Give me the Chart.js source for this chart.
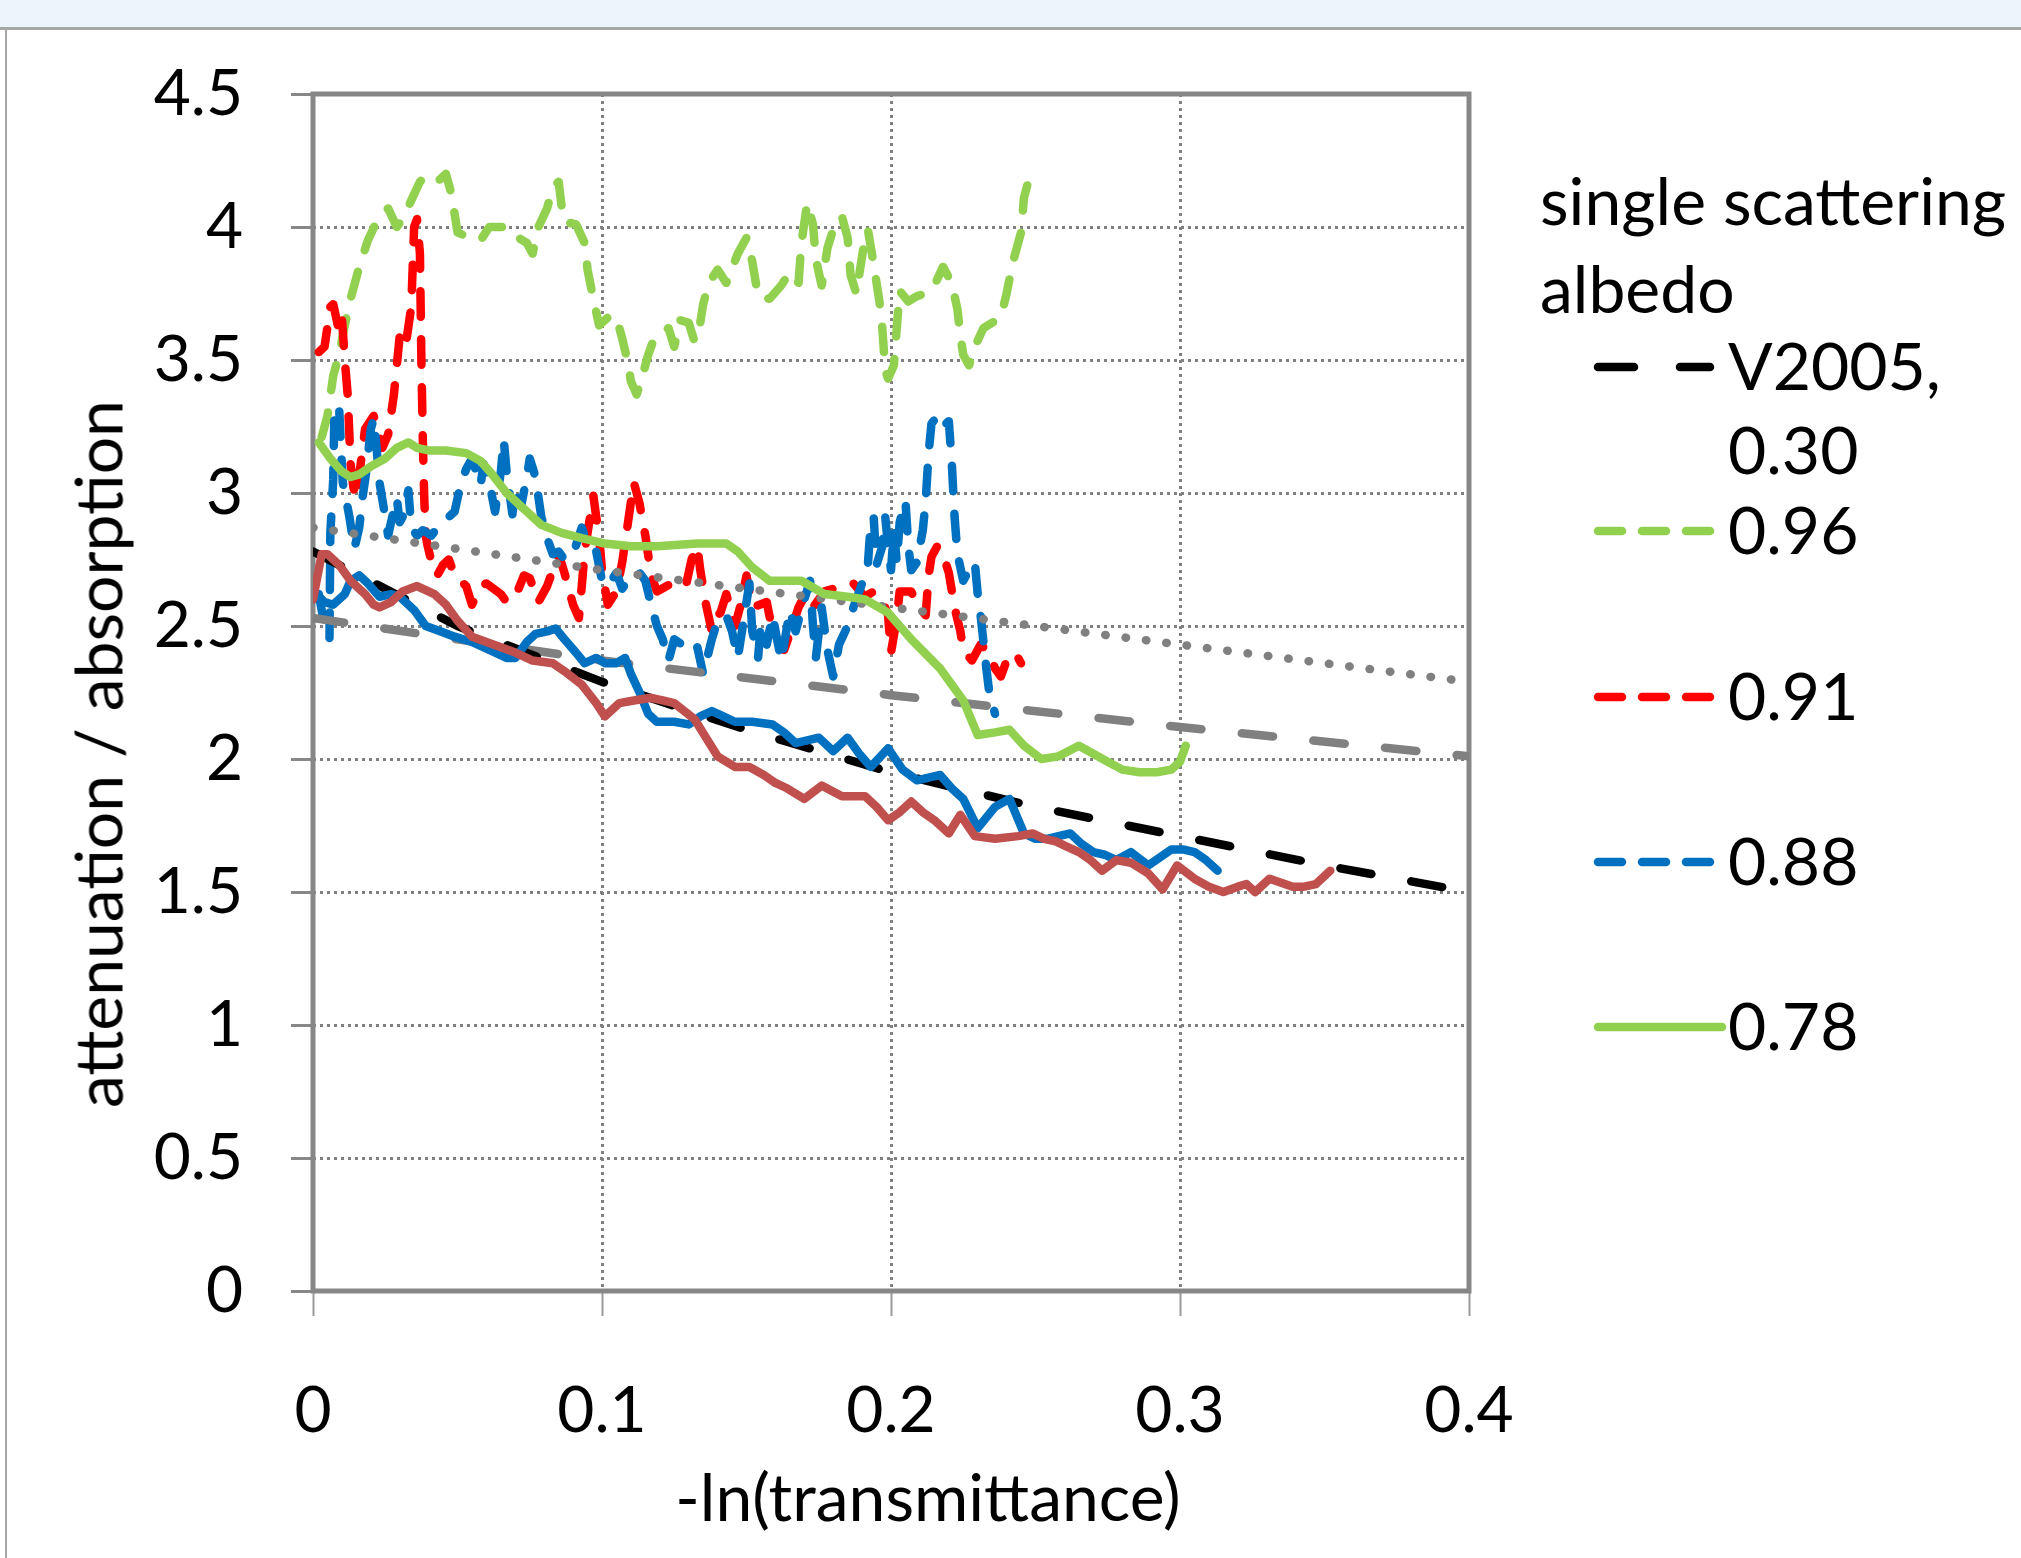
<!DOCTYPE html>
<html>
<head>
<meta charset="utf-8">
<script src="https://cdn.jsdelivr.net/npm/chart.js@4.4.1/dist/chart.umd.min.js"></script>
<style>
  html, body { margin: 0; padding: 0; background: #fff; }
  body { width: 2021px; height: 1558px; position: relative; overflow: hidden; font-family: Lato, "Noto Sans", sans-serif; color: #000; }
  #band { position: absolute; left: 0; top: 0; width: 2021px; height: 27px; background: #EEF4FC; border-bottom: 3px solid #A6A6A6; }
  #edge { position: absolute; left: 5px; top: 30px; width: 2px; height: 1528px; background: #A6A6A6; }
  #chart { position: absolute; left: 0; top: 0; }
  .txt { position: absolute; font-size: 66px; line-height: 80px; white-space: nowrap; }
  #ytitle { position: absolute; left: 97px; top: 754px; transform: translate(-50%, -50%) rotate(-90deg); font-size: 66px; white-space: nowrap; }
  #xtitle { position: absolute; left: 928px; top: 1495px; transform: translate(-50%, -50%); font-size: 66px; white-space: nowrap; }
  #keys { position: absolute; left: 0; top: 0; }
</style>
</head>
<body>
<div id="band"></div>
<div id="edge"></div>
<canvas id="chart" width="2021" height="1558"></canvas>
<div id="ytitle">attenuation / absorption</div>
<div id="xtitle">-ln(transmittance)</div>

<div class="txt" style="left:1540px; top:160px;">single scattering</div>
<div class="txt" style="left:1540px; top:248px;">albedo</div>
<div class="txt" style="left:1728px; top:325px;">V2005,</div>
<div class="txt" style="left:1728px; top:409px;">0.30</div>
<div class="txt" style="left:1728px; top:489px;">0.96</div>
<div class="txt" style="left:1728px; top:655px;">0.91</div>
<div class="txt" style="left:1728px; top:820px;">0.88</div>
<div class="txt" style="left:1728px; top:985px;">0.78</div>

<svg id="keys" width="2021" height="1558">
  <g stroke-width="8.5" stroke-linecap="round">
    <line x1="1598" y1="367" x2="1634" y2="367" stroke="#000"/>
    <line x1="1680" y1="367" x2="1710" y2="367" stroke="#000"/>
    <g stroke="#92D050">
      <line x1="1598" y1="531" x2="1622" y2="531"/>
      <line x1="1642" y1="531" x2="1666" y2="531"/>
      <line x1="1686" y1="531" x2="1710" y2="531"/>
    </g>
    <g stroke="#FF0000">
      <line x1="1598" y1="697" x2="1622" y2="697"/>
      <line x1="1642" y1="697" x2="1666" y2="697"/>
      <line x1="1686" y1="697" x2="1710" y2="697"/>
    </g>
    <g stroke="#0070C0">
      <line x1="1598" y1="862" x2="1622" y2="862"/>
      <line x1="1642" y1="862" x2="1666" y2="862"/>
      <line x1="1686" y1="862" x2="1710" y2="862"/>
    </g>
    <line x1="1598" y1="1027" x2="1722" y2="1027" stroke="#92D050"/>
  </g>
</svg>

<script>
// axis ticks
const xTickValues = [0, 0.1, 0.2, 0.3, 0.4];
const xTickLabels = ['0', '0.1', '0.2', '0.3', '0.4'];
const yTickValues = [0, 0.5, 1, 1.5, 2, 2.5, 3, 3.5, 4, 4.5];
const yTickLabels = ['0', '0.5', '1', '1.5', '2', '2.5', '3', '3.5', '4', '4.5'];

// model curves: [x, y]
const v2005 = [[0, 2.78], [0.05, 2.50], [0.1, 2.29], [0.15, 2.11], [0.2, 1.95], [0.25, 1.82], [0.3, 1.71], [0.35, 1.60], [0.4, 1.50]];
const greyDashed = [[0, 2.53], [0.1, 2.37], [0.2, 2.24], [0.3, 2.12], [0.4, 2.01]];
const greyDotted = [[0, 2.87], [0.1, 2.71], [0.2, 2.57], [0.3, 2.43], [0.4, 2.29]];

// measured ratios, single scattering albedo 0.96
const albedo096 = [
  [0.003, 3.21], [0.005, 3.29], [0.007, 3.44], [0.009, 3.52], [0.011, 3.63], [0.013, 3.73], [0.016, 3.85],
  [0.019, 3.95], [0.022, 4.02], [0.026, 4.07], [0.029, 4.00], [0.031, 4.03], [0.034, 4.10], [0.037, 4.17],
  [0.039, 4.19], [0.043, 4.17], [0.046, 4.20], [0.048, 4.12], [0.050, 3.98], [0.054, 3.96], [0.058, 3.95],
  [0.061, 4.00], [0.067, 4.00], [0.071, 3.96], [0.074, 3.94], [0.076, 3.90], [0.078, 4.00], [0.081, 4.07],
  [0.083, 4.15], [0.085, 4.17], [0.086, 4.08], [0.087, 4.02], [0.091, 4.01], [0.094, 3.94], [0.095, 3.84],
  [0.097, 3.73], [0.099, 3.63], [0.101, 3.65], [0.103, 3.67], [0.105, 3.66], [0.107, 3.58], [0.109, 3.49],
  [0.110, 3.42], [0.112, 3.37], [0.114, 3.44], [0.116, 3.52], [0.118, 3.58], [0.123, 3.62], [0.125, 3.55],
  [0.127, 3.65], [0.130, 3.64], [0.132, 3.57], [0.134, 3.64], [0.135, 3.71], [0.137, 3.79], [0.140, 3.84],
  [0.143, 3.79], [0.147, 3.90], [0.150, 3.96], [0.152, 3.87], [0.154, 3.74], [0.158, 3.73], [0.162, 3.78],
  [0.165, 3.83], [0.168, 3.79], [0.169, 3.94], [0.171, 4.09], [0.173, 4.01], [0.174, 3.88], [0.176, 3.78],
  [0.178, 3.92], [0.180, 3.99], [0.183, 4.04], [0.185, 3.96], [0.186, 3.82], [0.188, 3.75], [0.191, 3.96],
  [0.192, 3.99], [0.194, 3.86], [0.196, 3.72], [0.197, 3.62], [0.198, 3.46], [0.199, 3.43], [0.201, 3.48],
  [0.202, 3.62], [0.203, 3.76], [0.206, 3.72], [0.209, 3.74], [0.212, 3.75], [0.215, 3.78], [0.218, 3.85],
  [0.221, 3.79], [0.223, 3.69], [0.224, 3.59], [0.225, 3.52], [0.227, 3.48], [0.229, 3.55], [0.232, 3.62],
  [0.238, 3.66], [0.240, 3.75], [0.242, 3.86], [0.245, 3.98], [0.246, 4.11], [0.248, 4.19]
];

// albedo 0.91
const albedo091 = [
  [0.002, 3.53], [0.004, 3.55], [0.006, 3.70], [0.007, 3.71], [0.009, 3.61], [0.010, 3.66], [0.011, 3.50],
  [0.012, 3.37], [0.0125, 3.24], [0.013, 3.11], [0.014, 3.02], [0.015, 2.98], [0.018, 3.24], [0.021, 3.29],
  [0.022, 3.25], [0.024, 3.17], [0.026, 3.22], [0.028, 3.37], [0.029, 3.48], [0.030, 3.59], [0.032, 3.55],
  [0.034, 3.70], [0.035, 4.00], [0.036, 4.03], [0.037, 3.90], [0.0375, 3.50], [0.038, 3.20], [0.0385, 2.98],
  [0.039, 2.84], [0.0395, 2.81], [0.041, 2.74], [0.043, 2.69], [0.045, 2.73], [0.047, 2.75], [0.049, 2.69],
  [0.053, 2.65], [0.055, 2.58], [0.058, 2.65], [0.060, 2.66], [0.065, 2.62], [0.067, 2.59], [0.070, 2.61],
  [0.073, 2.69], [0.075, 2.68], [0.078, 2.59], [0.081, 2.65], [0.085, 2.77], [0.087, 2.70], [0.090, 2.58],
  [0.092, 2.53], [0.093, 2.65], [0.094, 2.78], [0.097, 2.99], [0.098, 2.91], [0.099, 2.84], [0.100, 2.71],
  [0.102, 2.58], [0.105, 2.63], [0.107, 2.74], [0.109, 2.89], [0.111, 3.04], [0.113, 2.96], [0.115, 2.84],
  [0.117, 2.69], [0.119, 2.63], [0.124, 2.66], [0.129, 2.65], [0.131, 2.75], [0.133, 2.80], [0.134, 2.71],
  [0.136, 2.58], [0.138, 2.48], [0.139, 2.53], [0.141, 2.55], [0.143, 2.62], [0.146, 2.50], [0.148, 2.58],
  [0.150, 2.69], [0.152, 2.57], [0.157, 2.59], [0.159, 2.48], [0.163, 2.41], [0.165, 2.47], [0.168, 2.57],
  [0.171, 2.63], [0.173, 2.57], [0.177, 2.63], [0.180, 2.64], [0.184, 2.66], [0.187, 2.66], [0.191, 2.61],
  [0.194, 2.63], [0.197, 2.60], [0.199, 2.54], [0.200, 2.40], [0.202, 2.53], [0.203, 2.63], [0.207, 2.63],
  [0.209, 2.58], [0.212, 2.54], [0.213, 2.69], [0.214, 2.76], [0.216, 2.80], [0.218, 2.77], [0.220, 2.70],
  [0.222, 2.57], [0.224, 2.48], [0.225, 2.41], [0.228, 2.37], [0.231, 2.43], [0.234, 2.40], [0.236, 2.34],
  [0.238, 2.31], [0.240, 2.37], [0.243, 2.40], [0.245, 2.36]
];

// albedo 0.88
const albedo088 = [
  [0.002, 2.62], [0.004, 2.50], [0.0057, 2.45], [0.006, 2.85], [0.007, 3.05], [0.0074, 3.29], [0.009, 3.33],
  [0.0097, 3.17], [0.0103, 3.04], [0.0114, 2.98], [0.0126, 2.91], [0.0143, 2.79], [0.016, 2.87], [0.0171, 2.98],
  [0.0183, 3.07], [0.020, 3.24], [0.021, 3.28], [0.022, 3.17], [0.023, 3.04], [0.025, 2.91], [0.026, 2.84],
  [0.027, 2.89], [0.029, 2.98], [0.030, 2.89], [0.031, 2.91], [0.033, 3.01], [0.034, 2.87], [0.036, 2.84],
  [0.038, 2.86], [0.041, 2.84], [0.043, 2.87], [0.045, 2.89], [0.049, 2.93], [0.051, 3.03], [0.053, 3.09],
  [0.055, 3.13], [0.058, 3.03], [0.059, 3.11], [0.061, 3.04], [0.063, 2.93], [0.065, 3.08], [0.066, 3.20],
  [0.067, 3.08], [0.069, 2.92], [0.070, 3.00], [0.072, 2.95], [0.074, 3.06], [0.075, 3.13], [0.077, 3.06],
  [0.079, 2.91], [0.081, 2.83], [0.083, 2.77], [0.085, 2.78], [0.087, 2.75], [0.090, 2.77], [0.093, 2.87],
  [0.095, 2.81], [0.098, 2.78], [0.100, 2.67], [0.102, 2.65], [0.105, 2.70], [0.107, 2.64], [0.110, 2.69],
  [0.113, 2.70], [0.115, 2.67], [0.117, 2.58], [0.119, 2.50], [0.121, 2.45], [0.123, 2.37], [0.125, 2.45],
  [0.129, 2.42], [0.131, 2.40], [0.133, 2.42], [0.135, 2.32], [0.138, 2.45], [0.140, 2.52], [0.143, 2.54],
  [0.145, 2.48], [0.147, 2.38], [0.149, 2.52], [0.151, 2.66], [0.152, 2.48], [0.154, 2.38], [0.155, 2.51],
  [0.157, 2.43], [0.159, 2.54], [0.162, 2.37], [0.163, 2.43], [0.165, 2.56], [0.167, 2.48], [0.170, 2.60],
  [0.172, 2.67], [0.173, 2.50], [0.174, 2.38], [0.176, 2.57], [0.178, 2.41], [0.180, 2.31], [0.182, 2.43],
  [0.185, 2.50], [0.187, 2.57], [0.190, 2.66], [0.192, 2.73], [0.193, 2.89], [0.194, 2.91], [0.195, 2.73],
  [0.197, 2.80], [0.198, 2.91], [0.199, 2.80], [0.200, 2.71], [0.201, 2.86], [0.202, 2.74], [0.203, 2.89],
  [0.205, 2.97], [0.206, 2.80], [0.207, 2.71], [0.209, 2.74], [0.211, 2.86], [0.212, 2.97], [0.213, 3.15],
  [0.214, 3.26], [0.216, 3.29], [0.218, 3.25], [0.220, 3.27], [0.221, 3.12], [0.222, 2.91], [0.223, 2.77],
  [0.225, 2.67], [0.227, 2.71], [0.229, 2.74], [0.230, 2.62], [0.231, 2.54], [0.232, 2.44], [0.233, 2.34],
  [0.234, 2.25], [0.236, 2.17]
];

// albedo 0.78
const albedo078 = [
  [0.002, 3.19], [0.006, 3.13], [0.010, 3.08], [0.013, 3.06], [0.016, 3.07], [0.020, 3.10], [0.025, 3.13],
  [0.029, 3.17], [0.033, 3.19], [0.036, 3.17], [0.040, 3.16], [0.046, 3.16], [0.053, 3.15], [0.058, 3.12],
  [0.062, 3.07], [0.067, 3.00], [0.074, 2.93], [0.079, 2.88], [0.086, 2.85], [0.093, 2.83], [0.101, 2.81],
  [0.110, 2.80], [0.119, 2.80], [0.133, 2.81], [0.143, 2.81], [0.147, 2.78], [0.152, 2.72], [0.158, 2.67],
  [0.163, 2.67], [0.169, 2.67], [0.177, 2.62], [0.185, 2.61], [0.191, 2.60], [0.199, 2.55], [0.207, 2.45],
  [0.217, 2.34], [0.225, 2.22], [0.230, 2.09], [0.236, 2.10], [0.241, 2.11], [0.246, 2.05], [0.252, 2.00],
  [0.258, 2.01], [0.265, 2.05], [0.270, 2.02], [0.275, 1.99], [0.280, 1.96], [0.286, 1.95], [0.292, 1.95],
  [0.297, 1.96], [0.300, 1.99], [0.302, 2.05]
];

// two further measured series without legend entries
const blueSolid = [
  [0.000, 2.60], [0.002, 2.61], [0.004, 2.59], [0.007, 2.58], [0.011, 2.62], [0.013, 2.67], [0.016, 2.69],
  [0.019, 2.66], [0.023, 2.61], [0.027, 2.62], [0.030, 2.61], [0.035, 2.56], [0.039, 2.50], [0.044, 2.48],
  [0.049, 2.46], [0.055, 2.44], [0.061, 2.41], [0.067, 2.38], [0.070, 2.38], [0.074, 2.44], [0.077, 2.47],
  [0.081, 2.48], [0.084, 2.49], [0.087, 2.45], [0.091, 2.40], [0.094, 2.36], [0.098, 2.38], [0.101, 2.36],
  [0.105, 2.36], [0.108, 2.38], [0.110, 2.32], [0.113, 2.25], [0.116, 2.17], [0.119, 2.14], [0.125, 2.14],
  [0.130, 2.13], [0.134, 2.16], [0.138, 2.18], [0.142, 2.16], [0.146, 2.14], [0.152, 2.14], [0.159, 2.13],
  [0.163, 2.10], [0.167, 2.06], [0.171, 2.07], [0.175, 2.08], [0.180, 2.03], [0.185, 2.08], [0.189, 2.02],
  [0.193, 1.97], [0.199, 2.04], [0.204, 1.96], [0.209, 1.92], [0.213, 1.93], [0.217, 1.94], [0.221, 1.89],
  [0.225, 1.85], [0.230, 1.74], [0.236, 1.82], [0.241, 1.85], [0.246, 1.72], [0.250, 1.70], [0.254, 1.70],
  [0.258, 1.71], [0.262, 1.72], [0.266, 1.68], [0.270, 1.65], [0.274, 1.64], [0.278, 1.62], [0.283, 1.65],
  [0.289, 1.60], [0.293, 1.63], [0.297, 1.66], [0.301, 1.66], [0.305, 1.65], [0.309, 1.62], [0.313, 1.58]
];
const redSolid = [
  [0.000, 2.60], [0.003, 2.77], [0.005, 2.77], [0.009, 2.73], [0.013, 2.67], [0.018, 2.62], [0.021, 2.58],
  [0.023, 2.57], [0.027, 2.59], [0.031, 2.63], [0.036, 2.65], [0.042, 2.62], [0.046, 2.58], [0.050, 2.52],
  [0.055, 2.46], [0.060, 2.44], [0.065, 2.42], [0.070, 2.40], [0.076, 2.37], [0.083, 2.36], [0.087, 2.33],
  [0.093, 2.28], [0.098, 2.21], [0.101, 2.16], [0.106, 2.21], [0.111, 2.22], [0.117, 2.23], [0.121, 2.22],
  [0.125, 2.21], [0.132, 2.15], [0.136, 2.08], [0.140, 2.01], [0.146, 1.97], [0.151, 1.97], [0.156, 1.94],
  [0.160, 1.91], [0.164, 1.89], [0.170, 1.85], [0.176, 1.90], [0.183, 1.86], [0.191, 1.86], [0.195, 1.82],
  [0.199, 1.77], [0.203, 1.80], [0.207, 1.84], [0.211, 1.80], [0.215, 1.77], [0.220, 1.72], [0.224, 1.79],
  [0.229, 1.71], [0.236, 1.70], [0.244, 1.71], [0.249, 1.72], [0.253, 1.70], [0.257, 1.69], [0.261, 1.67],
  [0.265, 1.65], [0.269, 1.62], [0.273, 1.58], [0.278, 1.62], [0.283, 1.61], [0.289, 1.57], [0.294, 1.51],
  [0.299, 1.60], [0.305, 1.55], [0.310, 1.52], [0.315, 1.50], [0.320, 1.52], [0.323, 1.53], [0.326, 1.50],
  [0.331, 1.55], [0.339, 1.52], [0.343, 1.52], [0.347, 1.53], [0.352, 1.58]
];

const toPoints = arr => arr.map(([x, y]) => ({ x, y }));

const GRID = '#808080';
const FRAME = '#878787';
const tickFont = { family: 'Lato', size: 64 };
const LINE_W = 8.5;
const SHORT_DASH = [25.5, 22.5];
const LONG_DASH = [31.5, 40.5];
const DOTS = [0.5, 20];

// first entry is drawn on top
function series(label, pts, color, dash) {
  return {
    label,
    data: toPoints(pts),
    borderColor: color,
    backgroundColor: color,
    borderWidth: LINE_W,
    borderDash: dash || [],
    borderCapStyle: 'round',
    borderJoinStyle: 'round',
    pointRadius: 0,
    tension: 0,
    fill: false
  };
}

const datasets = [
  series('0.78', albedo078, '#92D050'),
  series('', redSolid, '#C0504D'),
  series('', blueSolid, '#0070C0'),
  series('V2005, 0.30', v2005, '#000000', LONG_DASH),
  series('', greyDashed, '#808080', LONG_DASH),
  series('', greyDotted, '#808080', DOTS),
  series('0.88', albedo088, '#0070C0', SHORT_DASH),
  series('0.91', albedo091, '#FF0000', SHORT_DASH),
  series('0.96', albedo096, '#92D050', SHORT_DASH)
];

// grey box around the plotting area
const plotFrame = {
  id: 'plotFrame',
  beforeDatasetsDraw(chart) {
    const { ctx, chartArea: a } = chart;
    ctx.save();
    ctx.strokeStyle = FRAME;
    ctx.lineWidth = 5;
    ctx.setLineDash([]);
    ctx.strokeRect(a.left, a.top, a.right - a.left, a.bottom - a.top);
    ctx.restore();
  }
};

new Chart(document.getElementById('chart'), {
  type: 'line',
  data: { datasets },
  options: {
    responsive: false,
    animation: false,
    events: [],
    layout: { padding: { top: 94, right: 552, left: 0, bottom: 0 } },
    plugins: {
      legend: { display: false },
      tooltip: { enabled: false },
      title: { display: false }
    },
    scales: {
      x: {
        type: 'linear',
        min: 0,
        max: 0.4,
        afterBuildTicks: s => { s.ticks = xTickValues.map(v => ({ value: v })); },
        afterFit: s => { s.height = 1558 - 1291; },
        ticks: {
          color: '#000',
          font: tickFont,
          padding: 57,
          maxRotation: 0,
          autoSkip: false,
          callback: (v, i) => xTickLabels[i]
        },
        grid: {
          color: GRID,
          lineWidth: 3,
          drawTicks: true,
          tickLength: 25,
          tickWidth: 2,
          tickColor: '#9a9a9a',
          tickBorderDash: []
        },
        border: { display: false, dash: [3, 4] }
      },
      y: {
        type: 'linear',
        min: 0,
        max: 4.5,
        afterBuildTicks: s => { s.ticks = yTickValues.map(v => ({ value: v })); },
        afterFit: s => { s.width = 313; },
        ticks: {
          color: '#000',
          font: tickFont,
          padding: 48,
          autoSkip: false,
          callback: (v, i) => yTickLabels[i]
        },
        grid: {
          color: GRID,
          lineWidth: 3,
          drawTicks: true,
          tickLength: 22,
          tickWidth: 3,
          tickColor: FRAME,
          tickBorderDash: []
        },
        border: { display: false, dash: [3, 4] }
      }
    }
  },
  plugins: [plotFrame]
});
</script>
</body>
</html>
